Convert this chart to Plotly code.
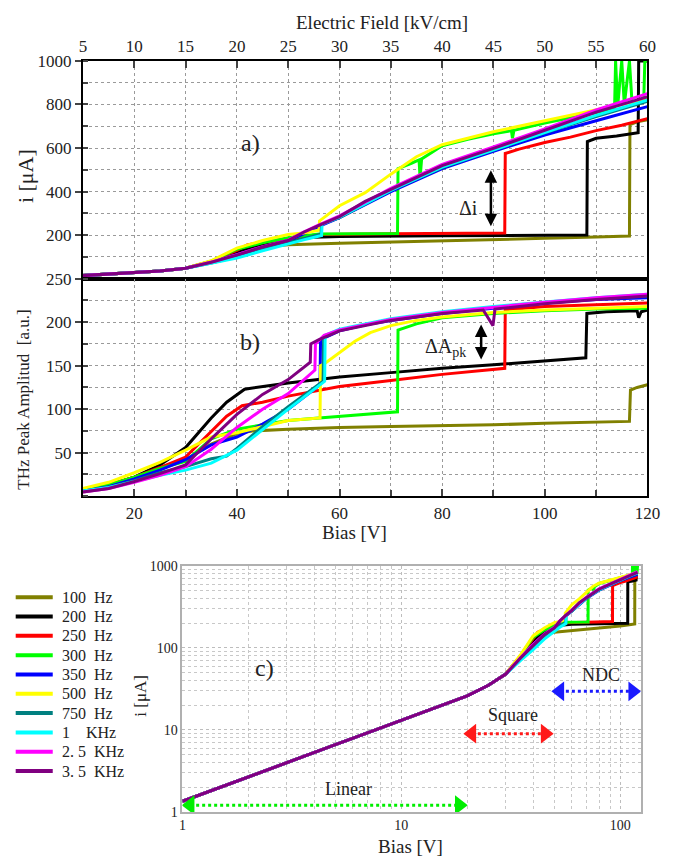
import math
import plotly.graph_objects as go

# ---------------- data ----------------
LABELS = ["100\u00a0\u00a0Hz", "200\u00a0\u00a0Hz", "250\u00a0\u00a0Hz", "300\u00a0\u00a0Hz", "350\u00a0\u00a0Hz",
          "500\u00a0\u00a0Hz", "750\u00a0\u00a0Hz", "1\u00a0\u00a0\u00a0\u00a0KHz", "2.\u00a05\u00a0\u00a0KHz",
          "3.\u00a05\u00a0\u00a0KHz"]
COLORS = ["#808000", "#000000", "#ff0000", "#00ff00", "#0000ff",
          "#ffff00", "#008080", "#00ffff", "#ff00ff", "#800080"]

FIELD_TICKS = [5, 10, 15, 20, 25, 30, 35, 40, 45, 50, 55, 60]   # kV/cm (bias = 2*field)

# current: shared low-bias part (V, uA)
LOW_BIAS = [1, 2, 3, 5, 7, 10, 15, 20, 25, 30]
LOW_I = [1.35, 2.7, 4.0, 6.6, 9.2, 13, 19.5, 26, 35, 48]

I_B_100 = [35, 40, 43, 46, 50, 60, 70, 80, 90, 100, 110, 116.5, 116.6, 118, 120]
I_V_100 = [75, 115, 135, 148, 155, 162, 167, 173, 178, 185, 191, 196, 708, 720, 730]
I_B_200 = [35, 40, 43, 46, 50, 55, 60, 80, 100, 108.2, 108.3, 110, 114, 118.2, 118.3, 120]
I_V_200 = [78, 120, 145, 160, 178, 190, 194, 197, 199, 200, 630, 645, 655, 670, 1000, 1000]
I_B_250 = [35, 40, 42, 45, 50, 56, 70, 92.2, 92.3, 95, 100, 105, 110, 115, 120]
I_V_250 = [80, 130, 155, 168, 185, 203, 206, 210, 575, 595, 625, 650, 680, 705, 735]
I_B_300 = [35, 40, 45, 50, 56, 71.3, 71.4, 74, 75.5, 75.7, 76, 80, 85, 90, 93.5, 93.7, 94, 100,
           110, 113.6, 113.8, 114.2, 115, 115.5, 116.5, 117, 119.3, 119.5, 120]
I_V_300 = [80, 135, 165, 188, 205, 207, 505, 530, 545, 460, 550, 610, 640, 665, 680, 645, 682, 715,
           765, 780, 1000, 790, 1000, 800, 1000, 810, 830, 1000, 1000]
I_B_350 = [35, 40, 45, 50, 53, 56, 60, 70, 80, 90, 100, 110, 120]
I_V_350 = [76, 110, 146, 175, 205, 240, 280, 400, 505, 585, 660, 725, 790]
I_B_500 = [35, 40, 45, 50, 53, 56, 56.1, 60, 65, 70, 75, 80, 90, 100, 110, 120]
I_V_500 = [82, 140, 175, 203, 210, 222, 265, 335, 395, 480, 560, 615, 675, 725, 775, 825]
I_B_750 = [35, 40, 45, 50, 53, 56.4, 56.5, 60, 70, 80, 90, 100, 110, 120]
I_V_750 = [72, 100, 135, 165, 185, 205, 250, 280, 405, 510, 590, 670, 745, 815]
I_B_1K = [35, 40, 45, 50, 53, 56.5, 56.6, 60, 70, 80, 90, 100, 110, 120]
I_V_1K = [70, 95, 128, 160, 178, 198, 250, 282, 405, 512, 592, 672, 750, 820]
I_B_2K5 = [35, 40, 45, 50, 53, 56, 60, 70, 80, 90, 100, 110, 120]
I_V_2K5 = [76, 110, 147, 177, 214, 247, 288, 415, 525, 605, 688, 775, 850]
I_B_3K5 = [35, 40, 45, 50, 53, 56, 60, 65, 70, 80, 90, 100, 110, 120]
I_V_3K5 = [75, 108, 145, 175, 213, 245, 285, 355, 410, 519, 598, 680, 765, 835]

# THz peak amplitude (V, a.u.)
A_B_100 = [10, 15, 20, 25, 30, 35, 40, 43, 50, 60, 70, 80, 90, 100, 110, 116.5, 116.7, 118, 120]
A_V_100 = [8, 13, 22, 33, 42, 60, 72, 75, 77, 79, 80, 81, 82, 84, 85, 86, 122, 125, 128]
A_B_200 = [10, 15, 20, 25, 30, 35, 38, 41.5, 50, 60, 70, 80, 90, 100, 108, 108.2, 112, 118, 118.3, 118.8, 120]
A_V_200 = [8, 13, 22, 36, 56, 90, 108, 123, 130, 137, 142, 147, 151, 155, 159, 210, 212, 213, 205, 212, 214]
A_B_250 = [10, 15, 20, 25, 30, 35, 38, 41, 45, 50, 60, 70, 80, 92.2, 92.3, 100, 110, 120]
A_V_250 = [8, 13, 22, 33, 45, 75, 92, 104, 108, 115, 126, 133, 140, 147, 214, 218, 220, 222]
A_B_300 = [10, 15, 20, 25, 30, 35, 40, 50, 56, 65, 71.3, 71.4, 75, 80, 90, 100, 110, 120]
A_V_300 = [8, 13, 22, 32, 40, 66, 77, 87, 90, 94, 97, 191, 198, 205, 210, 213, 215, 216]
A_B_350 = [10, 15, 20, 25, 30, 35, 40, 45, 50, 56.2, 56.3, 60, 65, 70, 80, 90, 100, 110, 120]
A_V_350 = [6, 11, 20, 30, 42, 59, 68, 83, 100, 128, 180, 190, 197, 202, 210, 216, 222, 226, 228]
A_B_500 = [10, 15, 20, 25, 30, 35, 40, 50, 56.2, 56.3, 57, 60, 63, 66, 70, 75, 80, 90, 100, 110, 120]
A_V_500 = [9, 16, 27, 39, 53, 68, 73, 87, 90, 150, 152, 165, 178, 188, 196, 202, 206, 211, 214, 216, 218]
A_B_750 = [10, 15, 20, 25, 30, 35, 38, 40, 45, 50, 56.8, 56.9, 60, 70, 80, 90, 100, 110, 120]
A_V_750 = [6, 10, 18, 27, 34, 43, 46, 55, 80, 103, 132, 183, 191, 203, 211, 217, 222, 227, 230]
A_B_1K = [10, 15, 20, 25, 30, 35, 40, 45, 50, 57.1, 57.2, 60, 70, 80, 90, 100, 110, 120]
A_V_1K = [6, 10, 17, 24, 30, 38, 53, 77, 100, 132, 185, 192, 204, 212, 218, 223, 228, 232]
A_B_2K5 = [10, 15, 20, 25, 30, 35, 40, 45, 50, 55.2, 55.3, 57, 60, 70, 80, 90, 100, 110, 120]
A_V_2K5 = [5, 9, 16, 24, 34, 54, 79, 100, 118, 145, 175, 185, 191, 203, 211, 217, 223, 228, 232]
A_B_3K5 = [10, 15, 20, 25, 30, 35, 40, 45, 50, 54.3, 54.4, 56, 60, 70, 80, 88, 89.9, 90.3, 100, 110, 120]
A_V_3K5 = [5, 9, 17, 26, 36, 66, 94, 117, 134, 154, 175, 180, 190, 202, 210, 214, 196, 215, 221, 226, 230]

I_BIAS = [I_B_100, I_B_200, I_B_250, I_B_300, I_B_350, I_B_500, I_B_750, I_B_1K, I_B_2K5, I_B_3K5]
I_VALS = [I_V_100, I_V_200, I_V_250, I_V_300, I_V_350, I_V_500, I_V_750, I_V_1K, I_V_2K5, I_V_3K5]
A_BIAS = [A_B_100, A_B_200, A_B_250, A_B_300, A_B_350, A_B_500, A_B_750, A_B_1K, A_B_2K5, A_B_3K5]
A_VALS = [A_V_100, A_V_200, A_V_250, A_V_300, A_V_350, A_V_500, A_V_750, A_V_1K, A_V_2K5, A_V_3K5]

# ---------------- figure ----------------
W, H = 676, 867
def px(x):
    return x / W
def py(y):
    return 1 - y / H

SERIF = "Liberation Serif, Times New Roman, serif"
GRID = dict(showgrid=True, gridcolor="#9a9a9a", griddash="dot", gridwidth=1)

fig = go.Figure()
for k in range(10):
    xb = LOW_BIAS + I_BIAS[k]
    yi = LOW_I + I_VALS[k]
    fig.add_trace(go.Scatter(x=xb, y=yi, xaxis="x", yaxis="y", mode="lines",
                             line=dict(color=COLORS[k], width=3), showlegend=False, hoverinfo="skip"))
    fig.add_trace(go.Scatter(x=A_BIAS[k], y=A_VALS[k], xaxis="x2", yaxis="y2", mode="lines",
                             line=dict(color=COLORS[k], width=3), showlegend=False, hoverinfo="skip"))
    fig.add_trace(go.Scatter(x=xb, y=yi, xaxis="x3", yaxis="y3", mode="lines", name=LABELS[k],
                             line=dict(color=COLORS[k], width=3), showlegend=False))

# region arrows in panel c (double-headed dotted)
REGIONS = [  # (x_left_head, x_right_head, y, color)
    (1.085, 18.4, 1.21, "#00ee00"),
    (21.0, 45.4, 9.0, "#ff1a1a"),
    (53.0, 114.0, 29.5, "#1a1aff"),
]
for xl, xr, yv, col in REGIONS:
    fig.add_trace(go.Scatter(x=[xl, xr], y=[yv, yv], xaxis="x3", yaxis="y3", mode="lines",
                             line=dict(color=col, width=3, dash="dot"), showlegend=False, hoverinfo="skip"))
    fig.add_trace(go.Scatter(x=[xl, xr], y=[yv, yv], xaxis="x3", yaxis="y3", mode="markers",
                             marker=dict(symbol=["triangle-left", "triangle-right"], size=17, color=col),
                             showlegend=False, hoverinfo="skip"))

XDOM = [px(81), px(660)]
axis_line = dict(showline=True, linecolor="black", linewidth=2, mirror=True)

fig.update_layout(
    width=W, height=H, margin=dict(l=0, r=0, t=0, b=0),
    paper_bgcolor="white", plot_bgcolor="white",
    font=dict(family=SERIF, size=17, color="#222"),
    xaxis=dict(domain=XDOM, anchor="y", side="top", range=[10, 120],
               tickvals=[2 * f for f in FIELD_TICKS], ticktext=[str(f) for f in FIELD_TICKS],
               ticks="inside", ticklen=7, tickwidth=2, tickfont=dict(size=17), zeroline=False,
               **GRID, **axis_line),
    yaxis=dict(domain=[py(275), py(53)], anchor="x", range=[0, 1000],
               tickvals=[200, 400, 600, 800, 1000], ticks="outside", ticklen=6, tickwidth=2,
               tickfont=dict(size=17), zeroline=False,
               minor=dict(dtick=100, showgrid=True, gridcolor="#9a9a9a", griddash="dot", ticks="inside", ticklen=5),
               **GRID, **axis_line),
    xaxis2=dict(domain=XDOM, anchor="y2", range=[10, 120], tickvals=[20, 40, 60, 80, 100, 120],
                ticks="inside", ticklen=7, tickwidth=2, tickfont=dict(size=17), zeroline=False,
                minor=dict(dtick=10, showgrid=True, gridcolor="#9a9a9a", griddash="dot", ticks="inside", ticklen=6),
                **GRID, **axis_line),
    yaxis2=dict(domain=[py(497), py(275)], anchor="x2", range=[0, 250],
                tickvals=[50, 100, 150, 200, 250], ticks="outside", ticklen=6, tickwidth=2,
                tickfont=dict(size=17), zeroline=False,
                minor=dict(dtick=25, showgrid=True, gridcolor="#9a9a9a", griddash="dot", ticks="inside", ticklen=5),
                **GRID, **axis_line),
    xaxis3=dict(domain=[px(183), px(653)], anchor="y3", type="log", range=[0, 2.093],
                tickvals=[1, 10, 100], ticktext=["1", "10", "100"], ticks="", tickfont=dict(size=14),
                showline=True, linecolor="#b0b0b0", linewidth=1.5, mirror=True,
                showgrid=True, gridcolor="#bdbdbd", griddash="dot",
                minor=dict(dtick="D1", showgrid=True, gridcolor="#c8c8c8", griddash="dot")),
    yaxis3=dict(domain=[py(819), py(568)], anchor="x3", type="log", range=[0, 3],
                tickvals=[1, 10, 100, 1000], ticktext=["1", "10", "100", "1000"], ticks="",
                tickfont=dict(size=14),
                showline=True, linecolor="#b0b0b0", linewidth=1.5, mirror=True,
                showgrid=True, gridcolor="#bdbdbd", griddash="dot",
                minor=dict(dtick="D1", showgrid=True, gridcolor="#c8c8c8", griddash="dot")),
    showlegend=False,
)

ann = []
shapes = []
def txt(x, y, s, size, xref="paper", yref="paper", angle=0, xanchor="center"):
    ann.append(dict(x=x, y=y, xref=xref, yref=yref, text=s, showarrow=False, textangle=angle,
                    font=dict(family=SERIF, size=size, color="#222"), xanchor=xanchor, yanchor="middle"))

txt(px(388), py(14), "Electric Field [kV/cm]", 19)
txt(px(22), py(170), "i [\u03bcA]", 22, angle=-90)
txt(px(20), py(398), "THz Peak Amplitud\u00a0\u00a0[a.u.]", 17, angle=-90)
txt(px(360), py(534), "Bias [V]", 19)
txt(px(140), py(700), "i [\u03bcA]", 17, angle=-90)
txt(px(417), py(854), "Bias [V]", 19)

txt(42.6, 622, "a)", 24, "x", "y")
txt(42.6, 177, "b)", 24, "x2", "y2")
txt(math.log10(2.37), math.log10(57), "c)", 24, "x3", "y3")
txt(85.1, 326, "\u0394i", 20, "x", "y")
txt(80.6, 171, "\u0394A<sub>pk</sub>", 20, "x2", "y2")
txt(math.log10(5.72), math.log10(1.9), "Linear", 18, "x3", "y3")
txt(math.log10(32.3), math.log10(15.2), "Square", 18, "x3", "y3")
txt(math.log10(81.5), math.log10(47), "NDC", 18, "x3", "y3")

# legend (drawn manually to match spacing)
for k in range(10):
    yk = 600 + 19.7 * k
    shapes.append(dict(type="line", xref="paper", yref="paper", x0=px(12), x1=px(50), y0=py(yk), y1=py(yk),
                       line=dict(color=COLORS[k], width=4)))
    txt(px(57), py(yk), LABELS[k], 16, xanchor="left")

# double-headed arrows
ann.append(dict(x=89.5, y=240, ax=89.5, ay=505, xref="x", yref="y", axref="x", ayref="y", text="",
                showarrow=True, arrowhead=2, arrowside="end+start", arrowsize=1, arrowwidth=2.5,
                arrowcolor="black"))
ann.append(dict(x=87.6, y=157, ax=87.6, ay=199, xref="x2", yref="y2", axref="x2", ayref="y2", text="",
                showarrow=True, arrowhead=2, arrowside="end+start", arrowsize=1, arrowwidth=2.5,
                arrowcolor="black"))
fig.update_layout(annotations=ann, shapes=shapes)

fig.write_html("out.html")
